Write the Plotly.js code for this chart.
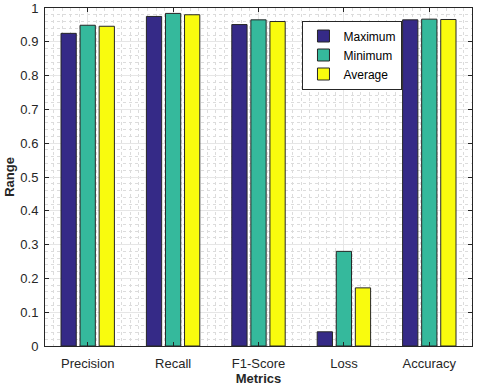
<!DOCTYPE html>
<html>
<head>
<meta charset="utf-8">
<script src="https://cdn.plot.ly/plotly-3.0.1.min.js"></script>
<style>
  html, body { margin: 0; padding: 0; background: #fff; }
  #fig { width: 478px; height: 392px; }
</style>
</head>
<body>
<div id="fig"></div>
<script>
// metrics on the x axis, one group of bars each
var metrics = ['Precision', 'Recall', 'F1-Score', 'Loss', 'Accuracy'];
var positions = [1, 2, 3, 4, 5];

var maximum = [0.925, 0.975, 0.951, 0.042, 0.965];
var minimum = [0.949, 0.984, 0.965, 0.280, 0.967];
var average = [0.946, 0.980, 0.960, 0.172, 0.966];

var yTicks = [0, 0.1, 0.2, 0.3, 0.4, 0.5, 0.6, 0.7, 0.8, 0.9, 1];

function barSeries(name, values, colour) {
  return {
    type: 'bar',
    name: name,
    x: positions,
    y: values,
    marker: { color: colour, line: { color: '#262626', width: 1 } }
  };
}

var data = [
  barSeries('Maximum', maximum, '#352a87'),
  barSeries('Minimum', minimum, '#35b99c'),
  barSeries('Average', average, '#f9fb0e')
];

var gridMinor = { showgrid: true, gridcolor: '#dcdcdc', griddash: 'dot', gridwidth: 1 };

var layout = {
  width: 478, height: 392,
  margin: { l: 45, r: 6, t: 8, b: 46 },
  paper_bgcolor: '#ffffff',
  plot_bgcolor: '#ffffff',
  font: { family: 'Liberation Sans, Arial, sans-serif', size: 12, color: '#262626' },
  barmode: 'group',
  bargap: 0.33,
  bargroupgap: 0.2,
  showlegend: true,
  legend: {
    x: 0.603, y: 0.963, xanchor: 'left', yanchor: 'top',
    bgcolor: '#ffffff', bordercolor: '#262626', borderwidth: 1,
    font: { size: 12, color: '#000' },
    tracegroupgap: 0, itemwidth: 30
  },
  xaxis: {
    range: [0.5, 5.5],
    tickmode: 'array', tickvals: positions, ticktext: metrics,
    ticks: 'inside', ticklen: 4, tickcolor: '#262626',
    ticklabelstandoff: 5,
    showline: true, linecolor: '#262626', linewidth: 1, mirror: 'ticks',
    showgrid: true, gridcolor: '#e6e6e6', gridwidth: 1,
    minor: Object.assign({ dtick: 0.1 }, gridMinor),
    zeroline: false,
    tickfont: { size: 13, color: '#262626' },
    title: { text: '<b>Metrics</b>', font: { size: 13, color: '#262626' }, standoff: 4 }
  },
  yaxis: {
    range: [0, 1],
    tickmode: 'array', tickvals: yTicks,
    ticks: 'inside', ticklen: 4, tickcolor: '#262626',
    ticklabelstandoff: 3,
    showline: true, linecolor: '#262626', linewidth: 1, mirror: 'ticks',
    showgrid: true, gridcolor: '#e6e6e6', gridwidth: 1,
    minor: Object.assign({ dtick: 0.02 }, gridMinor),
    zeroline: false,
    tickfont: { size: 13, color: '#262626' },
    title: { text: '<b>Range</b>', font: { size: 13, color: '#262626' }, standoff: 2 }
  }
};

Plotly.newPlot('fig', data, layout, { displayModeBar: false, staticPlot: true });
</script>
</body>
</html>
